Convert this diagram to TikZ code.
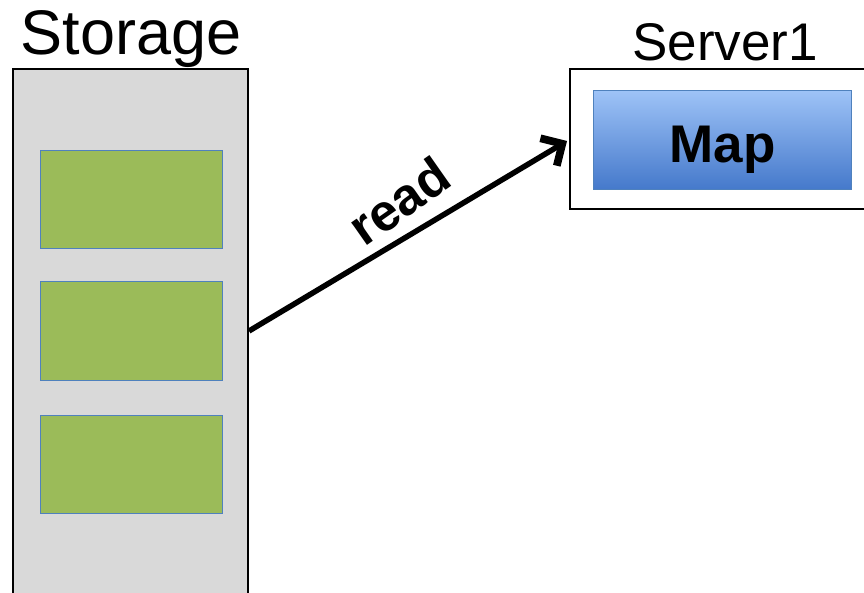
\documentclass[tikz,border=0pt]{standalone}
\usepackage{fontspec}
\setmainfont{Liberation Sans}
\usetikzlibrary{arrows.meta,positioning}
\definecolor{storagegray}{HTML}{D9D9D9}
\definecolor{chunkgreen}{HTML}{9BBB59}
\definecolor{chunkedge}{HTML}{4F81BD}
\definecolor{maptop}{HTML}{9EC3F7}
\definecolor{mapbottom}{HTML}{4579CB}
\tikzset{
  container/.style={draw=black, line width=1.6pt, inner sep=0pt, outer sep=0pt},
  chunk/.style={draw=chunkedge, line width=1pt, fill=chunkgreen, minimum width=182pt, minimum height=98pt, inner sep=0pt, outer sep=0pt},
  mapbox/.style={draw=chunkedge, line width=0.8pt, top color=maptop, bottom color=mapbottom, minimum width=258pt, minimum height=99pt, inner sep=0pt, text height=45pt, text depth=0pt, font=\bfseries\fontsize{53}{60}\selectfont},
  title/.style={font=\fontsize{63}{72}\selectfont, inner sep=0pt},
  readarrow/.style={line width=5.5pt, -{Straight Barb[length=16pt, width=32pt, line width=0pt 1.4, line cap=butt]}}
}
\begin{document}
\begin{tikzpicture}[x=1pt, y=-1pt]
  \useasboundingbox (0,0) rectangle (864,593);
  \clip (0,0) rectangle (864,593);
  % storage column, running past the lower edge
  \node[container, fill=storagegray, minimum width=235pt, minimum height=560pt, anchor=north west] (storage) at (13,69) {};
  \node[title, anchor=base] (storagelabel) at (131,55) {Storage};
  % data chunks
  \node[chunk, anchor=north west] (chunk1) at (40,151) {};
  \node[chunk, anchor=north west] (chunk2) at (40,282) {};
  \node[chunk, anchor=north west] (chunk3) at (40,415) {};
  % server with its map task, running past the right edge
  \node[container, fill=white, minimum width=320pt, minimum height=140pt, anchor=north west] (server) at (570,69) {};
  \node[title, font=\fontsize{53}{60}\selectfont, anchor=base] (serverlabel) at (725,61) {Server1};
  \node[mapbox, anchor=north west] (map) at (593,90) {Map};
  % read connector
  \coordinate (readstart) at (249,331);
  \coordinate (readend) at (567,141);
  \draw[readarrow] (readstart) -- (readend);
  \node[font=\bfseries\fontsize{52}{60}\selectfont, rotate=35, inner sep=0pt] (readlabel) at (399,201) {read};
\end{tikzpicture}
\end{document}
